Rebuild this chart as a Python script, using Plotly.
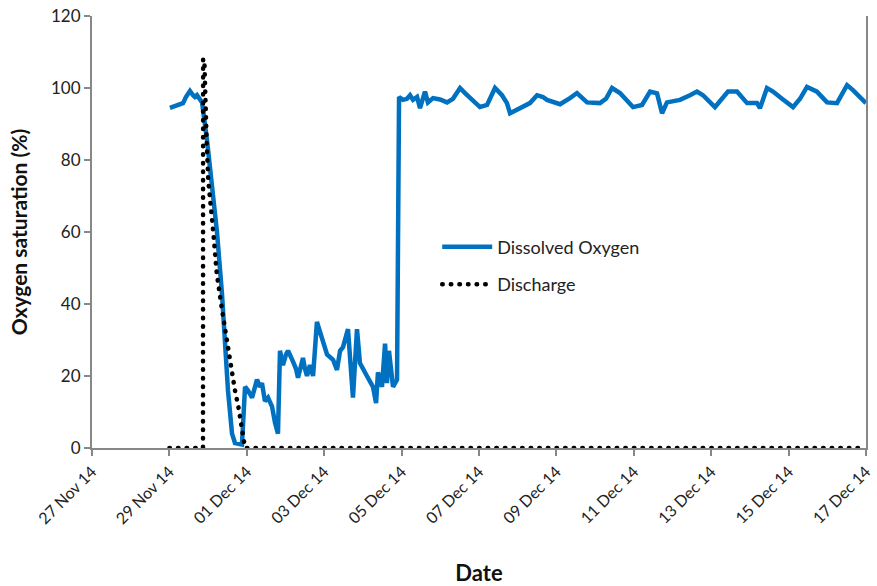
import plotly.graph_objects as go

# Dissolved oxygen saturation record (%)
do_time = [
    "2014-11-29 00:20", "2014-11-29 04:05", "2014-11-29 08:25", "2014-11-29 10:15",
    "2014-11-29 12:45", "2014-11-29 14:40", "2014-11-29 15:50", "2014-11-29 17:05",
    "2014-11-29 19:00", "2014-11-29 20:15", "2014-11-29 23:20", "2014-11-30 02:25",
    "2014-11-30 05:30", "2014-11-30 08:35", "2014-11-30 10:30", "2014-11-30 12:20",
    "2014-11-30 14:50", "2014-11-30 16:40", "2014-11-30 21:00", "2014-11-30 22:55",
    "2014-12-01 00:45", "2014-12-01 03:15", "2014-12-01 06:20", "2014-12-01 08:10",
    "2014-12-01 09:25", "2014-12-01 11:15", "2014-12-01 13:10", "2014-12-01 15:40",
    "2014-12-01 17:30", "2014-12-01 19:20", "2014-12-01 20:35", "2014-12-01 22:25",
    "2014-12-02 00:20", "2014-12-02 01:35", "2014-12-02 04:40", "2014-12-02 06:30",
    "2014-12-02 07:45", "2014-12-02 09:35", "2014-12-02 10:50", "2014-12-02 12:05",
    "2014-12-02 13:20", "2014-12-02 15:10", "2014-12-02 17:05", "2014-12-02 19:30",
    "2014-12-02 21:25", "2014-12-03 01:45", "2014-12-03 05:30", "2014-12-03 07:55",
    "2014-12-03 09:50", "2014-12-03 11:40", "2014-12-03 14:45", "2014-12-03 16:00",
    "2014-12-03 17:50", "2014-12-03 20:20", "2014-12-03 22:10", "2014-12-04 02:30",
    "2014-12-04 06:15", "2014-12-04 08:10", "2014-12-04 09:20", "2014-12-04 11:50",
    "2014-12-04 13:45", "2014-12-04 14:55", "2014-12-04 16:10", "2014-12-04 18:40",
    "2014-12-04 21:10", "2014-12-04 22:25", "2014-12-05 00:50", "2014-12-05 03:20",
    "2014-12-05 05:15", "2014-12-05 07:05", "2014-12-05 09:35", "2014-12-05 11:25",
    "2014-12-05 14:30", "2014-12-05 16:20", "2014-12-05 19:30", "2014-12-05 23:50",
    "2014-12-06 04:10", "2014-12-06 07:50", "2014-12-06 12:15", "2014-12-06 15:20",
    "2014-12-06 18:25", "2014-12-06 21:30", "2014-12-07 00:35", "2014-12-07 05:00",
    "2014-12-07 09:55", "2014-12-07 14:15", "2014-12-07 17:20", "2014-12-07 19:15",
    "2014-12-08 01:25", "2014-12-08 07:35", "2014-12-08 12:00", "2014-12-08 15:40",
    "2014-12-08 18:10", "2014-12-09 02:15", "2014-12-09 08:25", "2014-12-09 12:45",
    "2014-12-09 19:00", "2014-12-10 03:00", "2014-12-10 06:45", "2014-12-10 10:30",
    "2014-12-10 15:25", "2014-12-10 19:45", "2014-12-10 23:30", "2014-12-11 05:05",
    "2014-12-11 10:05", "2014-12-11 14:25", "2014-12-11 17:30", "2014-12-11 20:35",
    "2014-12-12 04:40", "2014-12-12 10:50", "2014-12-12 15:10", "2014-12-12 18:55",
    "2014-12-13 02:20", "2014-12-13 06:40", "2014-12-13 10:25", "2014-12-13 16:00",
    "2014-12-13 22:15", "2014-12-14 04:25", "2014-12-14 06:15", "2014-12-14 10:35",
    "2014-12-14 14:20", "2014-12-14 19:55", "2014-12-15 02:45", "2014-12-15 07:05",
    "2014-12-15 11:25", "2014-12-15 17:35", "2014-12-15 23:50", "2014-12-16 06:00",
    "2014-12-16 12:15", "2014-12-16 15:55", "2014-12-16 20:15", "2014-12-17 00:00",
]
do_sat = [
    94.5, 95.0, 95.8, 97.5,
    99.2, 98.0, 97.5, 98.0,
    97.0, 96.0, 85.5, 73.6,
    60.0, 43.0, 30.0, 16.0,
    4.0, 1.4, 1.0, 17.0,
    16.0, 14.0, 19.0, 17.0,
    18.0, 13.0, 14.0, 11.5,
    7.0, 4.0, 27.0, 23.0,
    26.0, 27.0, 24.0, 22.0,
    19.5, 23.0, 25.0, 22.0,
    20.0, 23.0, 20.0, 35.0,
    32.0, 26.0, 24.5, 21.7,
    27.0, 28.0, 33.0, 25.0,
    14.0, 33.0, 23.6, 20.0,
    17.0, 12.5, 21.0, 17.0,
    29.0, 18.0, 27.0, 17.0,
    19.0, 97.5, 96.7, 97.0,
    98.0, 96.7, 97.5, 94.4,
    99.0, 96.0, 97.2, 96.8,
    96.0, 97.0, 100.0, 98.6,
    97.2, 96.0, 94.7, 95.3,
    100.0, 98.0, 95.8, 93.0,
    94.4, 95.8, 98.0, 97.5,
    96.7, 95.5, 97.2, 98.6,
    96.0, 95.8, 97.0, 100.0,
    98.6, 96.5, 94.7, 95.3,
    99.0, 98.5, 93.0, 96.0,
    96.7, 98.0, 99.0, 98.0,
    94.7, 97.0, 99.0, 99.0,
    95.8, 95.8, 94.4, 100.0,
    99.0, 97.0, 94.7, 97.0,
    100.3, 99.0, 96.0, 95.8,
    100.8, 99.4, 97.5, 95.8,
]

# Discharge event (relative scale on the same axis)
q_time = [
    "2014-11-29 00:00", "2014-11-29 20:50", "2014-11-29 20:55", "2014-11-29 21:40",
    "2014-11-29 23:05", "2014-11-30 00:05", "2014-11-30 03:15", "2014-11-30 05:20",
    "2014-11-30 08:25", "2014-11-30 11:30", "2014-11-30 14:40", "2014-11-30 16:40",
    "2014-11-30 18:45", "2014-11-30 20:50", "2014-11-30 22:55", "2014-12-17 00:00",
]
q_val = [
    0, 0, 108, 108,
    85.5, 74.4, 59.7, 48.6,
    39, 30, 21.7, 16,
    11.5, 6, 0, 0,
]

x_ticks = ["2014-11-27", "2014-11-29", "2014-12-01", "2014-12-03", "2014-12-05",
           "2014-12-07", "2014-12-09", "2014-12-11", "2014-12-13", "2014-12-15",
           "2014-12-17"]
y_ticks = [0, 20, 40, 60, 80, 100, 120]

FONT = "Lato"
AXIS_GREY = "#878787"
TEXT = "#222222"

fig = go.Figure()
fig.add_trace(go.Scatter(
    x=do_time, y=do_sat, mode="lines", name="Dissolved Oxygen",
    line=dict(color="#0070C0", width=4.5), legendgroup="a",
))
fig.add_trace(go.Scatter(
    x=q_time, y=q_val, mode="lines", name="Discharge",
    line=dict(color="#000000", width=4.5, dash="0.5px,8.1px"), legendgroup="b",
))

fig.update_layout(
    width=877, height=586,
    margin=dict(l=92, r=11, t=16, b=138),
    paper_bgcolor="white", plot_bgcolor="white",
    font=dict(family=FONT, size=17, color=TEXT),
    showlegend=True,
    legend=dict(
        x=0.446, y=0.508, xanchor="left", yanchor="top",
        bgcolor="rgba(0,0,0,0)", itemwidth=50, tracegroupgap=11,
        font=dict(family=FONT, size=18, color=TEXT),
    ),
    xaxis=dict(
        type="date", range=["2014-11-27", "2014-12-17"],
        tickvals=x_ticks, tickformat="%d %b %y", tickangle=-45,
        ticks="outside", ticklen=6, tickcolor=AXIS_GREY, tickwidth=1.5,
        showline=True, linecolor=AXIS_GREY, linewidth=2,
        showgrid=False, zeroline=False, automargin=False,
        tickfont=dict(family=FONT, size=16, color=TEXT),
        title=dict(text="<b>Date</b>", font=dict(family=FONT, size=22, color="#111111"),
                   standoff=40),
    ),
    yaxis=dict(
        range=[0, 120], tickvals=y_ticks,
        ticks="outside", ticklen=6, tickcolor=AXIS_GREY, tickwidth=1.5,
        showline=True, linecolor=AXIS_GREY, linewidth=2, mirror=True,
        showgrid=False, zeroline=False, automargin=False,
        tickfont=dict(family=FONT, size=17, color=TEXT),
        title=dict(text="<b>Oxygen saturation (%)</b>",
                   font=dict(family=FONT, size=21, color="#111111"), standoff=18),
    ),
)

# round line caps turn the short dashes into round dots
round_caps = """
document.querySelectorAll('path').forEach(function (p) {
  var d = p.style.strokeDasharray;
  if (d && d !== 'none') { p.style.strokeLinecap = 'round'; }
});
"""

fig.write_html("out.html", post_script=round_caps)
